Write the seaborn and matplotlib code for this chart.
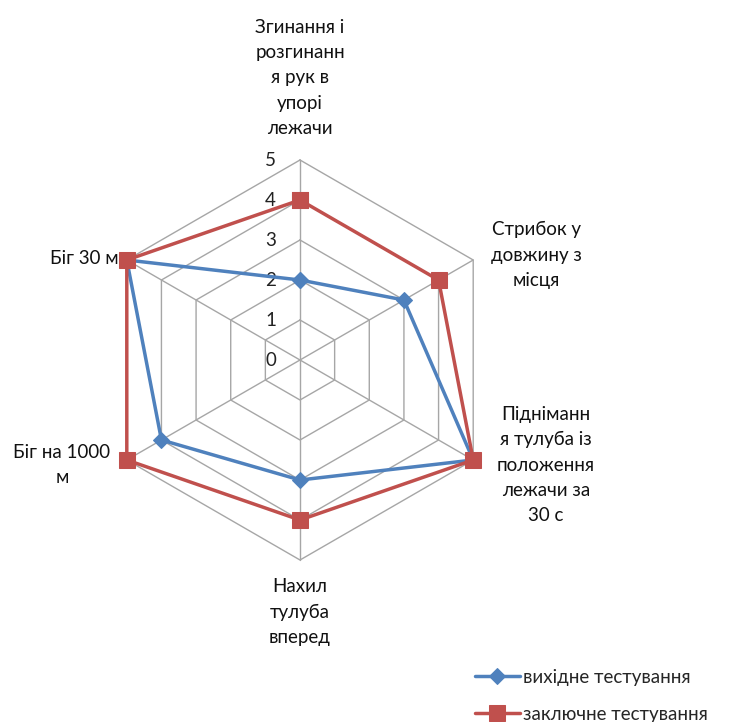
import numpy as np
import pandas as pd
import seaborn as sns
import matplotlib.pyplot as plt

categories = [
    'Згинання і\nрозгинанн\nя рук в\nупорі\nлежачи',
    'Стрибок у\nдовжину з\nмісця',
    'Підніманн\nя тулуба із\nположення\nлежачи за\n30 с',
    'Нахил\nтулуба\nвперед',
    'Біг на 1000\nм',
    'Біг 30 м',
]
initial_test = [2, 3, 5, 3, 4, 5]
final_test = [4, 4, 5, 4, 5, 5]
series_names = ['вихідне тестування', 'заключне тестування']
ticks = [0, 1, 2, 3, 4, 5]

sns.set_style('white')
plt.rcParams['font.family'] = ['Lato', 'DejaVu Sans']

n = len(categories)
angles = np.arange(n) * 2 * np.pi / n  # clockwise from top


def to_xy(values):
    vals = list(values) + [values[0]]
    ang = list(angles) + [angles[0]]
    return np.array(vals) * np.sin(ang), np.array(vals) * np.cos(ang)


fig = plt.figure(figsize=(7.31, 7.22), dpi=100)
ax = fig.add_axes([0, 0, 1, 1])
ax.set_xlim(-300 / 40, (731 - 300) / 40)
ax.set_ylim(-(722 - 360) / 40, 360 / 40)
ax.axis('off')

grid_color = '#a6a6a6'
for t in ticks[1:]:
    gx, gy = to_xy([t] * n)
    ax.plot(gx, gy, color=grid_color, lw=1.0, zorder=1)
for a in angles:
    ax.plot([0, ticks[-1] * np.sin(a)], [0, ticks[-1] * np.cos(a)],
            color=grid_color, lw=1.0, zorder=1)

for t in ticks:
    ax.text(-0.6, t, str(t), ha='right', va='center', fontsize=13.5, color='#222222')

colors = ['#4f81bd', '#c0504d']
markers = ['D', 's']
msizes = [8, 12]
for name, vals, c, m, ms in zip(series_names, [initial_test, final_test], colors, markers, msizes):
    x, y = to_xy(vals)
    df = pd.DataFrame({'x': x, 'y': y})
    sns.lineplot(data=df, x='x', y='y', sort=False, estimator=None, color=c,
                 lw=2.5, marker=m, markersize=ms, markeredgecolor=c,
                 label=name, ax=ax, zorder=3)

# category labels (pixel-based placement converted to data units)
label_pos = [
    (300, 78, 'center'),
    (536, 255, 'center'),
    (546, 465, 'center'),
    (300, 612, 'center'),
    (62, 465, 'center'),
    (119, 258, 'right'),
]
for lab, (px, py, ha) in zip(categories, label_pos):
    ax.text((px - 300) / 40, (360 - py) / 40, lab, ha=ha, va='center',
            multialignment='center', fontsize=13.5, linespacing=1.6, color='#111111')

ax.legend(loc='upper left', bbox_to_anchor=(458 / 731, 1 - 652 / 722),
          frameon=False, fontsize=13.5, handlelength=2.4, labelspacing=1.05,
          handletextpad=0.15)

fig.savefig('out.png', dpi=100)
